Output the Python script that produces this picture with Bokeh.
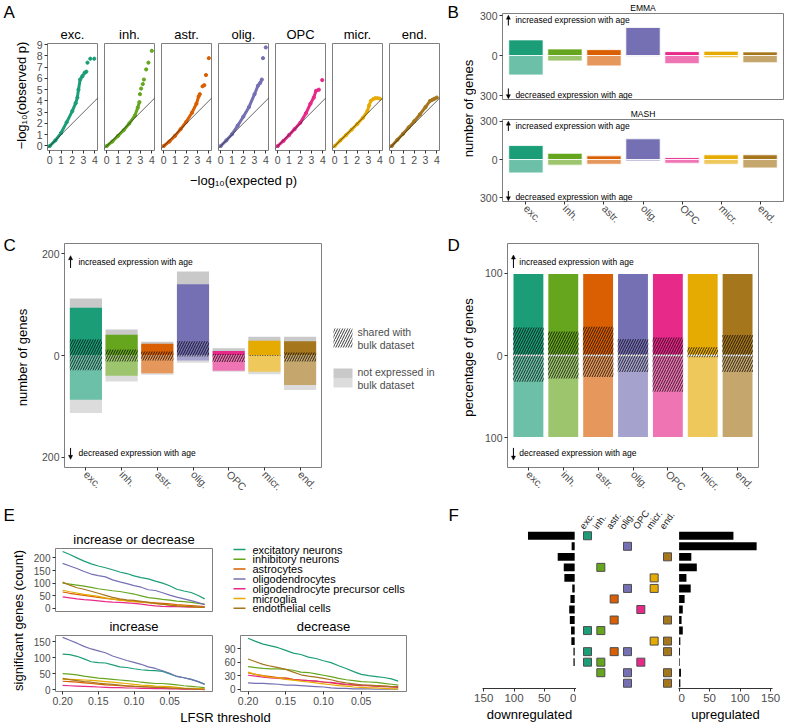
import math
from bokeh.plotting import figure
from bokeh.layouts import row, column
from bokeh.models import (Range1d, Label, FixedTicker, Slope, Arrow, NormalHead,
                          CustomJSTickFormatter, PrintfTickFormatter)
from bokeh.embed import file_html
from bokeh.resources import INLINE

FONT = "Liberation Sans"
TICK_COL = "#4d4d4d"

# ---------------- data ----------------
cell_types = ["exc.", "inh.", "astr.", "olig.", "OPC", "micr.", "end."]
cell_names = ["excitatory neurons", "inhibitory neurons", "astrocytes", "oligodendrocytes",
              "oligodendrocyte precursor cells", "microglia", "endothelial cells"]
cell_colors = ["#1b9e77", "#66a61e", "#d95f02", "#7570b3", "#e7298a", "#e6ab02", "#a6761d"]
cat_pos = [1, 2, 3, 4, 5, 6, 7]

# Panel A: QQ plots (expected vs observed -log10 p), dense part + isolated top points
qq_curve_x = [
    [0, 0.5, 1.0, 1.5, 2.0, 2.3, 2.45, 2.55, 2.7, 2.9, 3.1, 3.25],
    [0, 0.5, 1.0, 1.5, 2.0, 2.5, 2.75, 2.9],
    [0, 0.5, 1.0, 1.5, 2.0, 2.5, 2.9, 3.1, 3.2],
    [0, 0.5, 1.0, 1.5, 2.0, 2.5, 3.0, 3.3, 3.5, 3.65],
    [0, 0.5, 1.0, 1.5, 2.0, 2.5, 2.9, 3.2, 3.4, 3.65],
    [0, 0.5, 1.0, 1.5, 2.0, 2.5, 2.9, 3.05, 3.2],
    [0, 0.5, 1.0, 1.5, 2.0, 2.5, 3.0, 3.4, 3.6, 3.8],
]
qq_curve_y = [
    [0, 0.5, 1.15, 2.1, 3.1, 3.8, 4.3, 5.0, 5.9, 6.2, 6.5, 6.6],
    [0, 0.4, 0.9, 1.4, 2.0, 2.7, 3.4, 3.9],
    [0, 0.4, 0.9, 1.5, 2.15, 2.95, 3.75, 4.4, 4.6],
    [0, 0.5, 1.05, 1.8, 2.6, 3.45, 4.6, 5.35, 5.6, 5.9],
    [0, 0.45, 0.96, 1.5, 2.06, 2.9, 3.75, 4.3, 4.9, 5.0],
    [0, 0.5, 0.96, 1.45, 1.95, 2.5, 3.1, 3.6, 4.0],
    [0, 0.55, 1.08, 1.65, 2.2, 2.8, 3.46, 4.0, 4.1, 4.2],
]
qq_dot_x = [[3.35, 3.6, 3.95], [2.95, 3.05, 3.2, 3.3, 3.5, 3.7, 4.0], [3.45, 3.6, 3.75, 4.0],
            [3.75, 4.0], [3.95], [3.4, 3.6, 3.8, 4.0], [4.0]]
qq_dot_y = [[7.4, 7.75, 7.75], [4.6, 5.1, 5.5, 5.9, 6.8, 7.4, 8.45], [5.3, 5.4, 6.3, 7.8],
            [7.8, 8.75], [5.85], [4.15, 4.25, 4.25, 4.2], [4.3]]
qq_ticks_x = [0, 1, 2, 3, 4]
qq_ticks_y = [0, 1, 2, 3, 4, 5, 6, 7, 8, 9]

# Panel B: number of genes (EMMA / MASH)
emma_up = [117, 49, 44, 210, 29, 32, 27]
emma_down = [146, 41, 78, 5, 61, 17, 54]
mash_up = [110, 49, 29, 163, 15, 37, 37]
mash_down = [105, 44, 37, 12, 29, 37, 66]
b_ticks = [-300, 0, 300]

# Panel C: number of genes; total / expressed in bulk / shared with bulk
c_total_up = [112, 51, 27, 165, 14, 37, 37]
c_expr_up = [94, 41, 23, 140, 9, 29, 28]
c_shared_up = [32, 12, 8, 28, 3, 1, 6]
c_total_down = [113, 51, 38, 14, 32, 37, 68]
c_expr_down = [87, 40, 35, 10, 30, 32, 58]
c_shared_down = [29, 12, 10, 2, 13, 1, 12]
c_ticks = [-200, 0, 200]
c_legend_labels = [["shared with", "bulk dataset"], ["not expressed in", "bulk dataset"]]

# Panel D: percentage of genes
d_total_up = [100, 100, 100, 100, 100, 100, 100]
d_total_down = [100, 100, 100, 100, 100, 100, 100]
d_shared_up = [34, 29, 35, 20, 22, 10, 25]
d_shared_down = [32, 28, 26, 20, 44, 2, 20]
d_ticks = [-100, 0, 100]

# Panel E: significant genes vs LFSR threshold
lfsr = [0.20, 0.19, 0.18, 0.17, 0.16, 0.15, 0.14, 0.13, 0.12, 0.11, 0.10,
        0.09, 0.08, 0.07, 0.06, 0.05, 0.04, 0.03, 0.02, 0.01, 0.001]
e_both = [
    [225, 213, 200, 187, 176, 168, 161, 153, 144, 138, 129, 122, 117, 108, 100, 90, 76, 69, 63, 51, 38],
    [100, 96, 92, 88, 83, 78, 74, 70, 67, 62, 57, 50, 43, 40, 36, 33, 29, 27, 24, 20, 17],
    [65, 60, 56, 52, 48, 44, 40, 37, 34, 31, 28, 26, 24, 22, 20, 18, 15, 13, 11, 9, 7],
    [178, 168, 158, 146, 136, 130, 125, 113, 105, 98, 90, 84, 74, 71, 62, 53, 45, 38, 31, 23, 15],
    [46, 42, 38, 35, 33, 30, 27, 25, 24, 22, 20, 17, 13, 10, 8, 7, 7, 6, 5, 5, 4],
    [72, 66, 61, 56, 52, 48, 42, 37, 33, 30, 27, 25, 22, 19, 16, 14, 11, 9, 7, 5, 4],
    [104, 92, 82, 76, 68, 60, 52, 44, 38, 34, 32, 28, 24, 20, 17, 13, 10, 8, 7, 5, 4],
]
e_up = [
    [112, 110, 105, 97, 88, 85, 84, 78, 72, 70, 66, 63, 61, 60, 58, 50, 42, 38, 33, 26, 18],
    [51, 49, 47, 43, 40, 37, 35, 33, 31, 29, 27, 24, 22, 20, 20, 18, 16, 13, 11, 9, 7],
    [27, 26, 24, 22, 20, 18, 16, 15, 13, 12, 11, 10, 9, 8, 7, 6, 5, 4, 4, 3, 2],
    [164, 155, 146, 136, 128, 122, 116, 106, 99, 92, 86, 80, 72, 67, 60, 52, 42, 38, 33, 26, 17],
    [14, 13, 12, 11, 10, 9, 8, 7, 7, 6, 6, 5, 5, 4, 4, 3, 3, 2, 2, 2, 1],
    [33, 33, 32, 31, 30, 28, 26, 24, 22, 20, 17, 15, 14, 12, 11, 10, 8, 6, 5, 4, 3],
    [36, 32, 29, 26, 24, 21, 19, 17, 15, 13, 11, 10, 9, 8, 7, 6, 5, 4, 3, 2, 2],
]
e_down = [
    [113, 106, 100, 96, 92, 86, 80, 77, 71, 68, 63, 59, 52, 46, 39, 33, 30, 28, 26, 23, 18],
    [50, 48, 46, 45, 45, 44, 42, 38, 37, 34, 31, 28, 24, 21, 19, 17, 16, 15, 13, 11, 9],
    [36, 33, 30, 28, 26, 25, 22, 20, 19, 18, 16, 14, 12, 10, 9, 8, 8, 7, 7, 6, 6],
    [14, 13, 13, 12, 11, 9, 9, 8, 7, 6, 5, 3, 2, 2, 1, 1, 1, 0, 0, 0, 0],
    [31, 29, 27, 25, 24, 23, 21, 20, 19, 18, 16, 15, 13, 11, 10, 9, 8, 7, 6, 5, 4],
    [38, 33, 29, 26, 25, 22, 20, 18, 16, 14, 12, 10, 8, 7, 5, 4, 3, 3, 2, 1, 1],
    [67, 61, 55, 51, 48, 44, 38, 32, 29, 27, 24, 21, 17, 14, 12, 10, 9, 8, 7, 6, 5],
]
e_x_ticks = [0.20, 0.15, 0.10, 0.05]
e1_ticks = [0, 50, 100, 150, 200]
e2_ticks = [0, 50, 100, 150]
e3_ticks = [0, 30, 60, 90]

# Panel F: sharing patterns (rows) with down/up counts
f_rows = [[1], [4], [7], [2], [6], [4, 6], [3], [5], [3, 7], [1, 2], [6, 7],
          [1, 3, 4, 7], [1, 2, 5], [2, 4, 7], [4, 7]]
f_down = [77, 5, 28, 18, 17, 4, 7, 9, 8, 6, 5.5, 2, 2, 0, 0]
f_up = [89, 127, 20, 29, 12, 19, 9, 6, 4, 6, 2, 1.5, 1, 3, 2]
f_ticks = [0, 50, 100, 150]


# ---------------- helpers ----------------
def lighten(c, f=0.35):
    r, g, b = int(c[1:3], 16), int(c[3:5], 16), int(c[5:7], 16)
    return "#%02x%02x%02x" % tuple(int(round(v + (255 - v) * f)) for v in (r, g, b))


light_colors = [lighten(c) for c in cell_colors]


def mkfig(w, h, xr, yr, left, right, top, bottom, x_axis=True, y_axis=True, outline=True):
    p = figure(width=w, height=h, x_range=xr, y_range=yr, output_backend="svg",
               toolbar_location=None,
               x_axis_type="linear" if x_axis else None,
               y_axis_type="linear" if y_axis else None,
               min_border_left=left, min_border_right=right,
               min_border_top=top, min_border_bottom=bottom)
    p.grid.visible = False
    p.outline_line_color = "#7f7f7f" if outline else None
    p.outline_line_width = 1
    p.background_fill_color = "white"
    p.border_fill_color = "white"
    return p


def set_title(p, text, size, standoff=3):
    p.title.text = text
    p.title.align = "center"
    p.title.text_font = FONT
    p.title.text_font_size = size
    p.title.text_font_style = "normal"
    p.title.text_color = "black"
    p.title.standoff = standoff


def textfig(w, h):
    return mkfig(w, h, Range1d(0, w), Range1d(0, h), 0, 0, 0, 0, x_axis=False, y_axis=False,
                 outline=False)


def style_axis(ax, size="10px", line=False):
    ax.major_label_text_font = FONT
    ax.major_label_text_font_size = size
    ax.major_label_text_color = TICK_COL
    ax.major_tick_out = 3
    ax.major_tick_in = 0
    ax.minor_tick_out = 0
    ax.minor_tick_in = 0
    ax.major_tick_line_color = "#333333"
    ax.axis_line_color = "#333333" if line else None
    ax.major_label_standoff = 2
    ax.axis_label_text_font = FONT
    ax.axis_label_text_font_style = "normal"
    ax.axis_label_text_font_size = "13px"
    ax.axis_label_text_color = "black"
    ax.axis_label_standoff = 2


def lab(p, x, y, text, size, align="left", baseline="middle", angle=0, color="black"):
    p.add_layout(Label(x=x, y=y, text=text, text_font=FONT, text_font_size=size,
                       text_align=align, text_baseline=baseline, angle=angle,
                       text_color=color))


def arrow(p, x, y0, y1):
    p.add_layout(Arrow(end=NormalHead(size=4, line_color="black", fill_color="black",
                                      line_width=0.5),
                       x_start=x, y_start=y0, x_end=x, y_end=y1,
                       line_color="black", line_width=1))


abs_fmt = CustomJSTickFormatter(code="return Math.abs(tick).toString();")


def cat_fmt():
    return CustomJSTickFormatter(args=dict(labels=cell_types),
                                 code="const i = Math.round(tick) - 1; return labels[i] || '';")


def cat_axis(p):
    p.xaxis.ticker = FixedTicker(ticks=cat_pos)
    p.xaxis.formatter = cat_fmt()
    style_axis(p.xaxis, "10.5px")
    p.xaxis.major_label_orientation = -math.pi / 4


hatch_kw = dict(fill_alpha=0, hatch_pattern="/", hatch_color="black", hatch_scale=5,
                hatch_weight=0.9, hatch_alpha=0.85, line_color=None)


def solo(p):
    # wrap a figure so that it is not frame-aligned with its row siblings
    return column(p)


# ---------------- Panel A ----------------
labA = textfig(30, 234)
lab(labA, 3, 232, "A", "17px", baseline="top")
lab(labA, 21, 139, "\u2212log\u2081\u2080(observed p)", "13px", align="center",
    angle=math.pi / 2)

A_figs = []
for i, ct in enumerate(cell_types):
    w = 70 if i == 0 else 57
    p = mkfig(w, 170, Range1d(-0.2, 4.24), Range1d(-0.4, 9.1),
              17 if i == 0 else 4, 3, 43, 20, x_axis=True, y_axis=(i == 0))
    set_title(p, ct, "13px", standoff=4)
    p.xaxis.ticker = FixedTicker(ticks=qq_ticks_x)
    style_axis(p.xaxis, "10.5px")
    if i == 0:
        p.yaxis.ticker = FixedTicker(ticks=qq_ticks_y)
        style_axis(p.yaxis, "10.5px")
    p.add_layout(Slope(gradient=1, y_intercept=0, line_color="#222222", line_width=0.7))
    p.line(qq_curve_x[i], qq_curve_y[i], line_color=cell_colors[i], line_width=3.0)
    p.scatter(qq_curve_x[i], qq_curve_y[i], size=3.2, color=cell_colors[i])
    p.scatter(qq_dot_x[i], qq_dot_y[i], size=3.2, color=cell_colors[i])
    A_figs.append(p)

labAx = textfig(412, 64)
lab(labAx, 213, 54, "\u2212log\u2081\u2080(expected p)", "13px", align="center")
panelA = row(labA, column(row(*A_figs), labAx))

# ---------------- Panel B ----------------
labB = textfig(34, 234)
lab(labB, 5, 232, "B", "17px", baseline="top")
lab(labB, 26, 126, "number of genes", "13px", align="center", angle=math.pi / 2)


def b_panel(h, top, bottom, up, dn, title, with_x):
    p = mkfig(310, h, Range1d(0.4, 7.6), Range1d(-330, 315), 24, 3, top, bottom,
              x_axis=with_x, y_axis=True)
    set_title(p, title, "8.5px", standoff=1)
    p.yaxis.ticker = FixedTicker(ticks=b_ticks)
    p.yaxis.formatter = abs_fmt
    style_axis(p.yaxis, "10.5px")
    if with_x:
        cat_axis(p)
    p.vbar(x=cat_pos, width=0.88, bottom=0, top=up, fill_color=cell_colors,
           line_color="white", line_width=0.8)
    p.vbar(x=cat_pos, width=0.88, top=0, bottom=[-v for v in dn], fill_color=light_colors,
           line_color="white", line_width=0.8)
    arrow(p, 0.55, 225, 302)
    lab(p, 0.73, 266, "increased expression with age", "8.5px")
    arrow(p, 0.55, -247, -324)
    lab(p, 0.73, -296, "decreased expression with age", "8.5px")
    return p


emma = b_panel(106, 13, 7, emma_up, emma_down, "EMMA", False)
mash = b_panel(128, 11, 31, mash_up, mash_down, "MASH", True)
panelB = row(labB, column(emma, mash))

# ---------------- Panel C ----------------
labC = textfig(36, 266)
lab(labC, 3, 265, "C", "17px", baseline="top")
lab(labC, 22, 143, "number of genes", "13px", align="center", angle=math.pi / 2)

figC = mkfig(289, 266, Range1d(0.4, 7.6), Range1d(-220, 220), 28, 4, 9, 30)
figC.yaxis.ticker = FixedTicker(ticks=c_ticks)
figC.yaxis.formatter = abs_fmt
style_axis(figC.yaxis, "10.5px")
cat_axis(figC)
figC.vbar(x=cat_pos, width=0.9, bottom=0, top=c_total_up, fill_color="#c9c9c9", line_color=None)
figC.vbar(x=cat_pos, width=0.9, top=0, bottom=[-v for v in c_total_down], fill_color="#dcdcdc",
          line_color=None)
figC.vbar(x=cat_pos, width=0.9, bottom=0, top=c_expr_up, fill_color=cell_colors, line_color=None)
figC.vbar(x=cat_pos, width=0.9, top=0, bottom=[-v for v in c_expr_down], fill_color=light_colors,
          line_color=None)
figC.vbar(x=cat_pos, width=0.9, bottom=0, top=c_shared_up, **hatch_kw)
figC.vbar(x=cat_pos, width=0.9, top=0, bottom=[-v for v in c_shared_down], **hatch_kw)
arrow(figC, 0.57, 172, 196)
lab(figC, 0.79, 183.5, "increased expression with age", "8.5px")
arrow(figC, 0.57, -181.6, -204)
lab(figC, 0.79, -191, "decreased expression with age", "8.5px")

# legend of panel C (keys drawn in a text-only strip, pixel units, y upwards)
legCfig = textfig(120, 266)
legCfig.quad(left=[8], right=[27], bottom=[153], top=[172], fill_color="white",
             line_color=None, hatch_pattern="/", hatch_color="black", hatch_scale=5,
             hatch_weight=0.9, hatch_alpha=0.85)
legCfig.quad(left=[8], right=[27], bottom=[122.5], top=[132], fill_color="#c9c9c9",
             line_color=None)
legCfig.quad(left=[8], right=[27], bottom=[113], top=[122.5], fill_color="#dcdcdc",
             line_color=None)
for k, (l1, l2) in enumerate(c_legend_labels):
    yc = 162.5 - k * 40
    lab(legCfig, 32, yc + 6, l1, "10.5px", color=TICK_COL)
    lab(legCfig, 32, yc - 6.5, l2, "10.5px", color=TICK_COL)

labD = textfig(36, 266)
lab(labD, 2, 265, "D", "17px", baseline="top")
lab(labD, 23, 143, "percentage of genes", "13px", align="center", angle=math.pi / 2)

figD = mkfig(305, 266, Range1d(0.4, 7.6), Range1d(-136, 136), 22, 28, 9, 30)
figD.yaxis.ticker = FixedTicker(ticks=d_ticks)
figD.yaxis.formatter = abs_fmt
style_axis(figD.yaxis, "10.5px")
cat_axis(figD)
figD.vbar(x=cat_pos, width=0.9, bottom=0, top=d_total_up, fill_color=cell_colors,
          line_color="white", line_width=1.5)
figD.vbar(x=cat_pos, width=0.9, top=0, bottom=[-v for v in d_total_down], fill_color=light_colors,
          line_color="white", line_width=1.5)
figD.vbar(x=cat_pos, width=0.88, bottom=0, top=d_shared_up, **hatch_kw)
figD.vbar(x=cat_pos, width=0.88, top=0, bottom=[-v for v in d_shared_down], **hatch_kw)
arrow(figD, 0.57, 106.3, 122)
lab(figD, 0.74, 113.4, "increased expression with age", "8.5px")
arrow(figD, 0.57, -112.2, -127)
lab(figD, 0.74, -118.2, "decreased expression with age", "8.5px")

# ---------------- Panel E ----------------
labE = textfig(30, 225)
lab(labE, 3, 220, "E", "17px", baseline="top")
lab(labE, 18, 105, "significant genes (count)", "13px", align="center", angle=math.pi / 2)


def e_panel(w, h, left, right, top, bottom, yr, yticks, series, title, with_x):
    p = mkfig(w, h, Range1d(0.21, -0.01), yr, left, right, top, bottom,
              x_axis=with_x, y_axis=True)
    set_title(p, title, "13px", standoff=3)
    p.yaxis.ticker = FixedTicker(ticks=yticks)
    style_axis(p.yaxis, "10px")
    if with_x:
        p.xaxis.ticker = FixedTicker(ticks=e_x_ticks)
        p.xaxis.formatter = PrintfTickFormatter(format="%.2f")
        style_axis(p.xaxis, "10.5px")
    for k in range(len(series)):
        p.line(lfsr, series[k], line_color=cell_colors[k], line_width=1.2)
    return p


E1 = e_panel(184, 114, 22, 2, 48, 3, Range1d(-12, 237), e1_ticks, e_both,
             "increase or decrease", False)

# legend of panel E (pixel units, y upwards)
legEfig = textfig(196, 114)
leg_y = [65 - 9.8 * k for k in range(len(cell_names))]
legEfig.segment(x0=19, x1=31, y0=leg_y, y1=leg_y, line_color=cell_colors, line_width=1.5)
for name, yy in zip(cell_names, leg_y):
    lab(legEfig, 38, yy, name, "11px")

E2 = e_panel(188, 96, 22, 6, 21, 19, Range1d(-5, 170), e2_ticks, e_up, "increase", True)
E3 = e_panel(192, 96, 22, 4, 21, 19, Range1d(-5, 119), e3_ticks, e_down, "decrease", True)
labL = textfig(380, 14)
lab(labL, 195, 7, "LFSR threshold", "13px", align="center")
panelE = row(labE, column(row(solo(E1), solo(legEfig)), row(E2, E3), labL))

# ---------------- Panel F ----------------
labF = textfig(62, 224)
lab(labF, 38, 219, "F", "17px", baseline="top")

f_idx = list(range(1, len(f_rows) + 1))
FH, FT, FB = 224, 30, 36
row_px = (FH - FT - FB) / 15.0

Fl = mkfig(104, FH, Range1d(152, -3), Range1d(15.5, 0.5), 10, 0, FT, FB, x_axis=True,
           y_axis=False, outline=False)
Fl.xaxis.ticker = FixedTicker(ticks=f_ticks)
style_axis(Fl.xaxis, "11.5px", line=True)
Fl.xaxis.axis_label = "downregulated"
Fl.hbar(y=f_idx, left=0, right=f_down, height=0.75, fill_color="black", line_color=None)

# middle matrix: its frame also covers the header strip where the column names sit
Fm = mkfig(102, FH, Range1d(0.175, 7.825), Range1d(15.5, 0.5 - FT / row_px), 0, 0, 0, FB,
           x_axis=False, y_axis=False, outline=False)
sq_x, sq_y, sq_c = [], [], []
for ri, members in enumerate(f_rows):
    for m in members:
        sq_x.append(m)
        sq_y.append(ri + 1)
        sq_c.append(cell_colors[m - 1])
Fm.scatter(sq_x, sq_y, marker="square", size=8, fill_color=sq_c, line_color="#4d4d4d",
           line_width=1)
for xpos, name in zip(cat_pos, cell_types):
    lab(Fm, xpos - 0.45, 0.25, name, "9.5px", baseline="alphabetic", angle=0.95,
        color="#1a1a1a")

Fr = mkfig(108, FH, Range1d(-1, 153), Range1d(15.5, 0.5), 0, 14, FT, FB, x_axis=True,
           y_axis=False, outline=False)
Fr.xaxis.ticker = FixedTicker(ticks=f_ticks)
style_axis(Fr.xaxis, "11.5px", line=True)
Fr.xaxis.axis_label = "upregulated"
Fr.hbar(y=f_idx, left=0, right=f_up, height=0.75, fill_color="black", line_color=None)

# ---------------- layout ----------------
row1 = row(panelA, panelB)
row2 = row(solo(labC), solo(figC), solo(legCfig), solo(labD), solo(figD))
row3 = row(panelE, solo(labF), solo(Fl), solo(Fm), solo(Fr))
layout = column(row1, row2, row3)

open("out.html", "w").write(file_html(layout, INLINE))
